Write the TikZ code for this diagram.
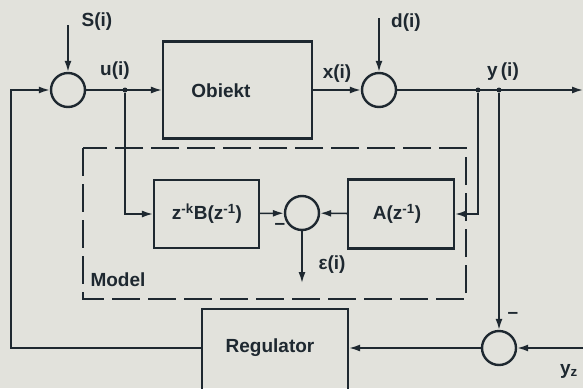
\documentclass[tikz,border=0pt]{standalone}
\usepackage{fontspec}
\setmainfont{Liberation Sans}
\usepackage{tikz}
\usetikzlibrary{arrows.meta,positioning}
\definecolor{ink}{HTML}{1E2830}
\definecolor{paper}{HTML}{E2E2DC}
\tikzset{
  blockbox/.style={draw=ink,line width=2.2pt,inner sep=0pt},
  sumnode/.style={circle,draw=ink,line width=2.4pt,minimum size=34pt,inner sep=0pt},
  sigarrow/.style={-{Latex[length=11pt,width=7pt]},line width=1.6pt,draw=ink},
  sigline/.style={line width=1.6pt,draw=ink},
  sigtext/.style={text=ink,font=\fontsize{19}{21}\selectfont\bfseries,inner sep=0pt},
  junction/.style={circle,fill=ink,minimum size=5pt,inner sep=0pt}
}

\begin{document}
\begin{tikzpicture}[x=1pt,y=-1pt]
\useasboundingbox[fill=paper] (0,0) rectangle (583,388);
\clip (0,0) rectangle (583,388);
% main loop
\node[sumnode] (sumS) at (68,90) {};
\node[blockbox,minimum width=149pt,minimum height=97pt] (obiekt) at (237.5,90) {};
\node[sigtext] at (221,91) {Obiekt};
\node[sumnode] (sumD) at (379,90) {};
\node[junction] (uj) at (125,90) {};
\node[junction] (ya) at (478,90) {};
\node[junction] (yr) at (499,90) {};
\coordinate (yout) at (583,90);
\coordinate (sin) at (68,25);
\coordinate (din) at (379,18);
\node[sigtext] at (97,22) {S(i)};
\node[sigtext] at (406,23) {d(i)};
\node[sigtext] at (115,71) {u(i)};
\node[sigtext] at (337,74) {x(i)};
\node[sigtext,fill=paper,inner xsep=1pt] at (503,72) {y\,(i)};
\draw[sigarrow] (sin) -- (sumS);
\draw[sigarrow] (din) -- (sumD);
\draw[sigarrow] (sumS) -- (obiekt);
\draw[sigarrow] (obiekt) -- (sumD);
\draw[sigarrow] (sumD) -- (yout);
% model
\draw[ink,line width=1.8pt,dash pattern=on 28pt off 8pt] (83,148) rectangle (466,299);
\node[sigtext] at (118,280) {Model};
\node[blockbox,minimum width=105pt,minimum height=68pt] (zb) at (206.5,214) {};
\node[sigtext] at (207,214) {z\textsuperscript{-k}B(z\textsuperscript{-1})};
\node[sumnode] (sumE) at (302,213) {};
\node[blockbox,minimum width=106pt,minimum height=69pt] (az) at (401,214) {};
\node[sigtext] at (397,214) {A(z\textsuperscript{-1})};
\coordinate (eps) at (302,283);
\node[sigtext] at (332,265) {ε(i)};
\node[sigtext] at (280,226) {--};
\draw[sigarrow] (uj) |- (zb);
\draw[sigarrow] (ya) |- (az);
\draw[sigarrow] (zb) -- (sumE);
\draw[sigarrow] (az) -- (sumE);
\draw[sigarrow] (sumE) -- (eps);
% regulator
\node[sumnode] (sumR) at (499,348) {};
\node[blockbox,minimum width=146pt,minimum height=90pt] (reg) at (275,354) {};
\node[sigtext] at (270,348) {Regulator};
\coordinate (yz) at (583,348);
\coordinate (fb) at (11,348);
\node[sigtext] at (513,315) {--};
\node[sigtext] at (569,371) {y\textsubscript{z}};
\draw[sigarrow] (yr) -- (sumR);
\draw[sigarrow] (yz) -- (sumR);
\draw[sigarrow] (sumR) -- (sumR -| reg.east);
\draw[sigarrow] (sumR -| reg.west) -- (fb) |- (sumS);
\end{tikzpicture}
\end{document}
